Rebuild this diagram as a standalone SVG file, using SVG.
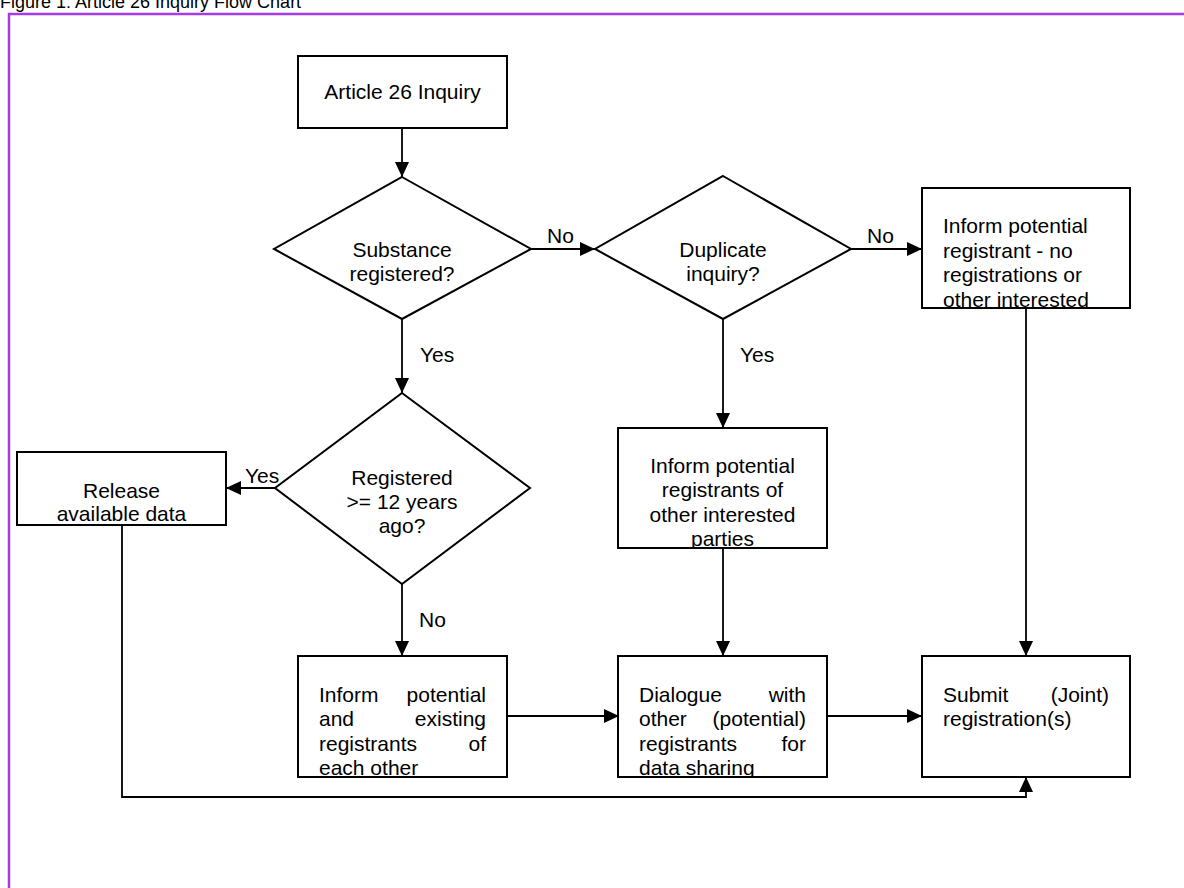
<svg xmlns="http://www.w3.org/2000/svg" width="1184" height="888" viewBox="0 0 1184 888">
<style>
  text { font-family: "Liberation Sans", Arial, sans-serif; font-size: 21px; fill: #000; }
  .box { fill: #fff; stroke: #000; stroke-width: 2; }
  .con { fill: none; stroke: #000; stroke-width: 1.8; }
  .c { text-anchor: middle; }
  .e { text-anchor: end; }
</style>
<defs>
  <marker id="ah" markerUnits="userSpaceOnUse" markerWidth="16" markerHeight="14" refX="15" refY="7" orient="auto">
    <path d="M0,0 L15,7 L0,14 Z" fill="#000"/>
  </marker>
  <clipPath id="clipMid"><rect x="618" y="428" width="209" height="120"/></clipPath>
  <clipPath id="clipTR"><rect x="922" y="188" width="208" height="120"/></clipPath>
  <clipPath id="clipInf"><rect x="298" y="656" width="209" height="121"/></clipPath>
  <clipPath id="clipDia"><rect x="618" y="656" width="209" height="121"/></clipPath>
</defs>
<rect width="1184" height="888" fill="#fff"/>
<text x="0" y="8" style="font-size:18px">Figure 1: Article 26 Inquiry Flow Chart</text>
<path d="M9,888 V14 H1184" fill="none" stroke="#a33be6" stroke-width="2.5"/>

<g id="connectors">
  <line class="con" x1="402" y1="128" x2="402" y2="177" marker-end="url(#ah)"/>
  <line class="con" x1="531" y1="249" x2="595" y2="249" marker-end="url(#ah)"/>
  <line class="con" x1="851" y1="249" x2="922" y2="249" marker-end="url(#ah)"/>
  <line class="con" x1="402" y1="319" x2="402" y2="393" marker-end="url(#ah)"/>
  <line class="con" x1="723" y1="319" x2="723" y2="428" marker-end="url(#ah)"/>
  <line class="con" x1="275" y1="488" x2="226" y2="488" marker-end="url(#ah)"/>
  <line class="con" x1="402" y1="584" x2="402" y2="656" marker-end="url(#ah)"/>
  <line class="con" x1="723" y1="548" x2="723" y2="656" marker-end="url(#ah)"/>
  <line class="con" x1="1026" y1="308" x2="1026" y2="656" marker-end="url(#ah)"/>
  <line class="con" x1="507" y1="716" x2="619" y2="716" marker-end="url(#ah)"/>
  <line class="con" x1="827" y1="716" x2="922" y2="716" marker-end="url(#ah)"/>
  <polyline class="con" points="122,525 122,797 1026,797 1026,777" marker-end="url(#ah)"/>
  <text x="547" y="243">No</text>
  <text x="867" y="243">No</text>
  <text x="420" y="362">Yes</text>
  <text x="740" y="362">Yes</text>
  <text x="245" y="483">Yes</text>
  <text x="419" y="627">No</text>
</g>

<g id="n-article">
  <rect class="box" x="298" y="56" width="209" height="72"/>
  <text class="c" x="402.5" y="99">Article 26 Inquiry</text>
</g>

<g id="n-substance">
  <polygon class="box" points="402,177 531,249 402,319 274,249"/>
  <text class="c" x="402" y="257">Substance</text>
  <text class="c" x="402" y="281">registered?</text>
</g>

<g id="n-duplicate">
  <polygon class="box" points="723,176 851,249 723,319 595,249"/>
  <text class="c" x="723" y="257">Duplicate</text>
  <text class="c" x="723" y="281">inquiry?</text>
</g>

<g id="n-inform-none">
  <rect class="box" x="922" y="188" width="208" height="120"/>
  <g clip-path="url(#clipTR)">
    <text x="943" y="233">Inform potential</text>
    <text x="943" y="258">registrant - no</text>
    <text x="943" y="282">registrations or</text>
    <text x="943" y="307">other interested</text>
  </g>
</g>

<g id="n-registered">
  <polygon class="box" points="402,393 530,488 402,584 275,488"/>
  <text class="c" x="402" y="485">Registered</text>
  <text class="c" x="402" y="509">&gt;= 12 years</text>
  <text class="c" x="402" y="533">ago?</text>
</g>

<g id="n-release">
  <rect class="box" x="17" y="452" width="209" height="73"/>
  <text class="c" x="121.5" y="498">Release</text>
  <text class="c" x="121.5" y="521">available data</text>
</g>

<g id="n-inform-others">
  <rect class="box" x="618" y="428" width="209" height="120"/>
  <g clip-path="url(#clipMid)">
    <text class="c" x="722.5" y="473">Inform potential</text>
    <text class="c" x="722.5" y="497">registrants of</text>
    <text class="c" x="722.5" y="522">other interested</text>
    <text class="c" x="722.5" y="546">parties</text>
  </g>
</g>

<g id="n-inform-each">
  <rect class="box" x="298" y="656" width="209" height="121"/>
  <g clip-path="url(#clipInf)">
    <text x="319" y="702">Inform</text><text class="e" x="486" y="702">potential</text>
    <text x="319" y="726">and</text><text class="e" x="486" y="726">existing</text>
    <text x="319" y="751">registrants</text><text class="e" x="486" y="751">of</text>
    <text x="319" y="775">each other</text>
  </g>
</g>

<g id="n-dialogue">
  <rect class="box" x="618" y="656" width="209" height="121"/>
  <g clip-path="url(#clipDia)">
    <text x="639" y="702">Dialogue</text><text class="e" x="806" y="702">with</text>
    <text x="639" y="726">other</text><text class="e" x="806" y="726">(potential)</text>
    <text x="639" y="751">registrants</text><text class="e" x="806" y="751">for</text>
    <text x="639" y="775">data sharing</text>
  </g>
</g>

<g id="n-submit">
  <rect class="box" x="922" y="656" width="208" height="121"/>
  <text x="943" y="702">Submit</text><text class="e" x="1109" y="702">(Joint)</text>
  <text x="943" y="726">registration(s)</text>
</g>
</svg>
